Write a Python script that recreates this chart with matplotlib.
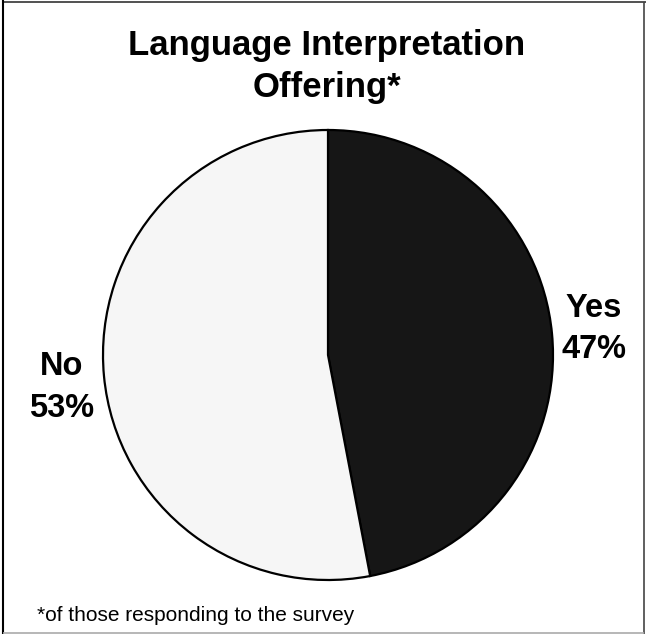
import matplotlib.pyplot as plt

plt.rcParams['font.family'] = ['Liberation Sans', 'DejaVu Sans']

labels = ['Yes', 'No']
shares = [47, 53]
slice_colors = ['#161616', '#f6f6f6']

W, H = 646, 634
fig = plt.figure(figsize=(W / 100, H / 100), dpi=100)
ax = fig.add_axes([0, 0, 1, 1])

wedges, _ = ax.pie(shares, colors=slice_colors, startangle=90, counterclock=False,
                   center=(328, H - 355), radius=225,
                   wedgeprops=dict(edgecolor='black', linewidth=1.6))
ax.set_xlim(0, W)
ax.set_ylim(0, H)
ax.set_aspect('auto')
ax.axis('off')

# slice labels, one line at a time (baselines in pixels from the top)
label_spots = [(594, 317, 358), (62, 375, 417)]
for name, pct, (x, y1, y2) in zip(labels, shares, label_spots):
    ax.text(x, H - y1, name, ha='center', va='baseline', fontsize=23.5, fontweight='bold')
    ax.text(x, H - y2, f"{pct}%", ha='center', va='baseline', fontsize=23.5, fontweight='bold')

ax.text(327, H - 55, "Language Interpretation", ha='center', va='baseline',
        fontsize=25, fontweight='bold')
ax.text(327, H - 97, "Offering*", ha='center', va='baseline',
        fontsize=25, fontweight='bold')
ax.text(37, H - 621, "*of those responding to the survey", ha='left', va='baseline',
        fontsize=15)

# frame around the chart
frame = dict(solid_capstyle='butt', clip_on=True)
ax.plot([2.5, W], [H - 1.5, H - 1.5], color='#333333', lw=1.2, **frame)
ax.plot([2.5, 2.5], [0, H], color='black', lw=1.5, **frame)
ax.plot([644, 644], [0, H - 1.5], color='#444444', lw=1.2, **frame)
ax.plot([2.5, 644], [1.5, 1.5], color='#aaaaaa', lw=1.2, **frame)

fig.savefig('out.png', dpi=100)
